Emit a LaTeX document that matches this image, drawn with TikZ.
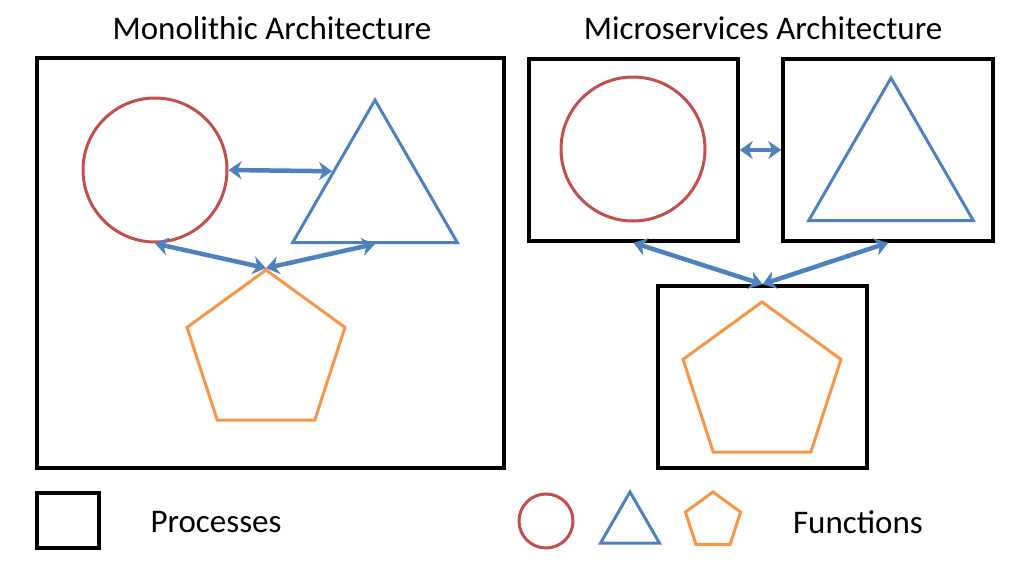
\documentclass[tikz,border=0pt]{standalone}
\usepackage{fontspec}
\setmainfont{Carlito}
\usetikzlibrary{shapes.geometric,arrows.meta}
\definecolor{fnred}{HTML}{C0504D}
\definecolor{fnblue}{HTML}{4F81BD}
\definecolor{fnorange}{HTML}{F79646}
\begin{document}
\begin{tikzpicture}[x=1pt,y=-1pt,
    proc/.style={draw=black,line width=3.5pt,inner sep=0pt},
    fcirc/.style={circle,draw=fnred,line width=3pt,inner sep=0pt},
    ftri/.style={regular polygon,regular polygon sides=3,draw=fnblue,line width=3pt,inner sep=0pt},
    fpent/.style={regular polygon,regular polygon sides=5,draw=fnorange,line width=3pt,inner sep=0pt},
    link/.style={draw=fnblue,line width=4.5pt,
      {Stealth[length=13pt,width=18pt,inset=4pt]}-{Stealth[length=13pt,width=18pt,inset=4pt]}},
    label/.style={font=\fontsize{33}{38}\selectfont}]
        \useasboundingbox (0,0) rectangle (1034,576);

        % titles
        \node[label] (montitle) at (272,28) {Monolithic Architecture};
        \node[label] (mictitle) at (763,28) {Microservices Architecture};

        % monolithic: one process
        \node[proc,minimum width=467pt,minimum height=410pt] (mono) at (270.5,263) {};
        \node[fcirc,minimum size=144pt] (lcirc) at (155,170) {};
        \node[ftri,minimum size=190pt] (ltri) at (375,195) {};
        \node[fpent,minimum size=166pt] (lpent) at (266,353) {};

        \draw[link] (lcirc.east) -- (ltri.151);
        \draw[link] (lcirc.south) -- (lpent.corner 1);
        \draw[link] (lpent.corner 1) -- (ltri.south);

        % microservices: one process each
        \node[proc,minimum width=209pt,minimum height=182pt] (boxa) at (633.5,150) {};
        \node[proc,minimum width=210pt,minimum height=182pt] (boxb) at (888,150) {};
        \node[proc,minimum width=209pt,minimum height=182pt] (boxc) at (762.5,377) {};
        \node[fcirc,minimum size=144pt] (rcirc) at (633,149) {};
        \node[ftri,minimum size=190pt] (rtri) at (891,173) {};
        \node[fpent,minimum size=166pt] (rpent) at (762,385) {};

        \draw[link] (boxa.east) -- (boxb.west);
        \draw[link] (boxa.south) -- (boxc.north);
        \draw[link] (boxc.north) -- (boxb.south);

        % legend
        \node[proc,minimum width=62pt,minimum height=55pt] (keyproc) at (68,520.5) {};
        \node[label] (proctext) at (216,522) {Processes};
        \node[fcirc,minimum size=54pt] (keycirc) at (546,521) {};
        \node[ftri,minimum size=68pt] (keytri) at (630,526) {};
        \node[fpent,minimum size=58pt] (keypent) at (713,521) {};
        \node[label] (fntext) at (858,522) {Functions};
      \end{tikzpicture}
\end{document}
